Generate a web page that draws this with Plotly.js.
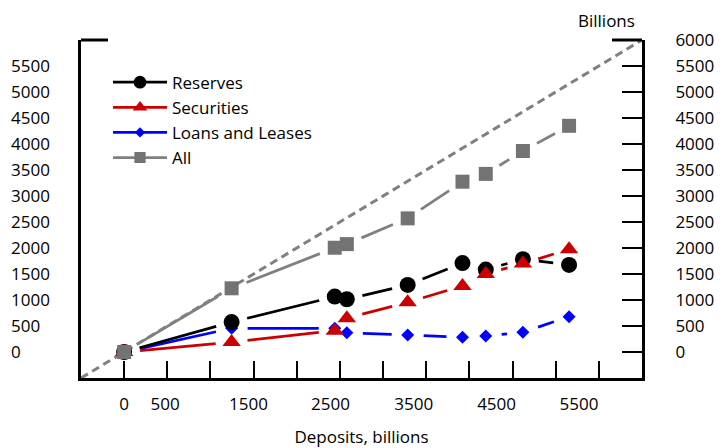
<!DOCTYPE html>
<html>
<head>
<meta charset="utf-8">
<script src="https://cdn.plot.ly/plotly-3.0.1.min.js"></script>
<style>html,body{margin:0;padding:0;background:#fff;}#chart{width:721px;height:448px;}</style>
</head>
<body>
<div id="chart"></div>
<script>
// ---- data ----
const deposits   = [0, 1245, 2440, 2580, 3285, 3920, 4190, 4620, 5155];
const reserves   = [0, 575, 1065, 1015, 1290, 1710, 1585, 1785, 1675];
const securities = [0, 190, 410, 650, 955, 1270, 1500, 1700, 1975];
const loans      = [0, 455, 455, 371, 327, 283, 308, 379, 679];
const allAssets  = [0, 1225, 2005, 2075, 2570, 3275, 3425, 3865, 4350];
const seriesNames = ['Reserves', 'Securities', 'Loans and Leases', 'All'];

const xTickVals   = [0, 500, 1000, 1500, 2000, 2500, 3000, 3500, 4000, 4500, 5000, 5500];
const xTickLabels = ['0', '500', '1500', '2500', '3500', '4500', '5500'];
const yRightTicks = [0, 500, 1000, 1500, 2000, 2500, 3000, 3500, 4000, 4500, 5000, 5500, 6000];
const yLeftTicks  = [0, 500, 1000, 1500, 2000, 2500, 3000, 3500, 4000, 4500, 5000, 5500];

// ---- layout / style constants ----
const W = 721, H = 448;
const M = {l: 5, r: 5, t: 40, b: 70};
const plotL = 81, plotR = 642;
const paperW = W - M.l - M.r;
const xDomain = [(plotL - M.l) / paperW, (plotR - M.l) / paperW];
const RANGE = [-500, 6000];
const plotW = plotR - plotL, plotH = H - M.t - M.b;
// where the x tick labels sit (they drift from the ticks in the reference)
const xLabelPos = [0, 475, 1440, 2390, 3355, 4315, 5270];
const GAP = 16; // px gap between line segments and markers
const FONT = 'Open Sans, Noto Sans, sans-serif';

// shortened segments between consecutive points (gap around markers)
function gapped(xs, ys) {
  const sx = plotW / (RANGE[1] - RANGE[0]), sy = plotH / (RANGE[1] - RANGE[0]);
  const ox = [], oy = [];
  for (let i = 0; i < xs.length - 1; i++) {
    const dx = (xs[i+1] - xs[i]), dy = (ys[i+1] - ys[i]);
    const L = Math.hypot(dx * sx, dy * sy);
    if (L <= 2 * GAP) continue;
    const f = GAP / L;
    ox.push(xs[i] + f * dx, xs[i+1] - f * dx, null);
    oy.push(ys[i] + f * dy, ys[i+1] - f * dy, null);
  }
  return {x: ox, y: oy};
}

const styles = {
  'Reserves':         {color: '#000000', mcolor: '#000000', symbol: 'circle', size: 16, rank: 1, xa: 'x2', ya: 'y'},
  'Securities':       {color: '#cc0000', mcolor: '#cc0000', symbol: 'triangle-up', size: 16, rank: 2, xa: 'x', ya: 'y2'},
  'Loans and Leases': {color: '#0000ff', mcolor: '#0000ff', symbol: 'diamond', size: 10, rank: 3, xa: 'x', ya: 'y3'},
  'All':              {color: '#808080', mcolor: '#737373', symbol: 'square', size: 14, rank: 4, xa: 'x', ya: 'y'}
};
const seriesData = {
  'Reserves': reserves, 'Securities': securities,
  'Loans and Leases': loans, 'All': allAssets
};
// drawing order: loans at bottom, then reserves, securities, all on top
const drawOrder = ['Loans and Leases', 'Reserves', 'Securities', 'All'];

const traces = [];
drawOrder.forEach(name => {
  const st = styles[name];
  const seg = gapped(deposits, seriesData[name]);
  traces.push({
    type: 'scatter', mode: 'lines', x: seg.x, y: seg.y,
    line: {color: st.color, width: 2.75}, showlegend: false, hoverinfo: 'skip'
  });
  traces.push({
    type: 'scatter', mode: 'markers', x: deposits, y: seriesData[name], name: name,
    marker: {color: st.mcolor, symbol: st.symbol, size: st.size, line: {width: 0}},
    showlegend: false
  });
});
// legend entries (line + marker); each also anchors one of the overlay axes
seriesNames.forEach(name => {
  const st = styles[name];
  traces.push({
    type: 'scatter', mode: 'lines+markers', x: [null], y: [null], name: name,
    xaxis: st.xa, yaxis: st.ya,
    legendrank: st.rank,
    line: {color: st.color, width: 2.75},
    marker: {color: st.mcolor, symbol: st.symbol, size: st.size * 0.8, line: {width: 0}}
  });
});

const baseAxis = {range: RANGE, showgrid: false, zeroline: false, fixedrange: true, autorange: false};

const layout = {
  width: W, height: H,
  margin: M,
  paper_bgcolor: '#fff', plot_bgcolor: '#fff',
  font: {family: FONT, size: 17, color: '#000'},
  showlegend: true,
  legend: {
    x: (108 - M.l) / paperW, y: 0.927, xanchor: 'left', yanchor: 'top',
    bgcolor: 'rgba(0,0,0,0)', borderwidth: 0, itemwidth: 54,
    font: {family: FONT, size: 17, color: '#000'}, traceorder: 'normal'
  },
  xaxis: Object.assign({}, baseAxis, {
    domain: xDomain, anchor: 'y',
    showline: true, linecolor: '#000', linewidth: 3,
    tickmode: 'array', tickvals: xTickVals, ticks: 'inside', ticklen: 17,
    tickwidth: 2, tickcolor: '#000', showticklabels: false
  }),
  xaxis2: Object.assign({}, baseAxis, {
    domain: xDomain, overlaying: 'x', anchor: 'y', side: 'bottom',
    showline: false, ticks: '', tickmode: 'array',
    tickvals: xLabelPos, ticktext: xTickLabels, ticklabelstandoff: 14,
    tickfont: {family: FONT, size: 17, color: '#000'},
    title: {text: 'Deposits, billions', standoff: 18, font: {family: FONT, size: 17, color: '#000'}}
  }),
  yaxis: Object.assign({}, baseAxis, {
    anchor: 'x', showline: true, linecolor: '#000', linewidth: 3,
    ticks: '', showticklabels: false
  }),
  yaxis2: Object.assign({}, baseAxis, {
    overlaying: 'y', anchor: 'x', side: 'right',
    showline: true, linecolor: '#000', linewidth: 3,
    tickmode: 'array', tickvals: yRightTicks, ticks: 'inside', ticklen: 20,
    tickwidth: 2.5, tickcolor: '#000', ticklabelstandoff: 27,
    tickfont: {family: FONT, size: 17, color: '#000'}
  }),
  yaxis3: Object.assign({}, baseAxis, {
    overlaying: 'y', anchor: 'free', position: 0, side: 'left',
    showline: false, ticks: '', tickmode: 'array', tickvals: yLeftTicks,
    ticklabelposition: 'inside', ticklabelstandoff: 2,
    tickfont: {family: FONT, size: 17, color: '#000'}
  }),
  shapes: [
    {type: 'line', xref: 'x domain', yref: 'y domain', x0: 0, y0: 0, x1: 1, y1: 1,
     line: {color: '#808080', width: 3, dash: '8px,5px'}, layer: 'below'},
    {type: 'line', xref: 'x domain', yref: 'y domain', x0: 0, x1: 27 / plotW, y0: 1, y1: 1,
     line: {color: '#000', width: 3}},
    {type: 'line', xref: 'x domain', yref: 'y domain', x0: 1 - 30 / plotW, x1: 1, y0: 1, y1: 1,
     line: {color: '#000', width: 3}}
  ],
  annotations: [
    {text: 'Billions', xref: 'paper', yref: 'paper', x: (606 - M.l) / paperW,
     y: 1, yshift: 20, xanchor: 'center', yanchor: 'middle', showarrow: false,
     font: {family: FONT, size: 17, color: '#000'}}
  ]
};

Plotly.newPlot('chart', traces, layout, {staticPlot: true, displayModeBar: false});
</script>
</body>
</html>
